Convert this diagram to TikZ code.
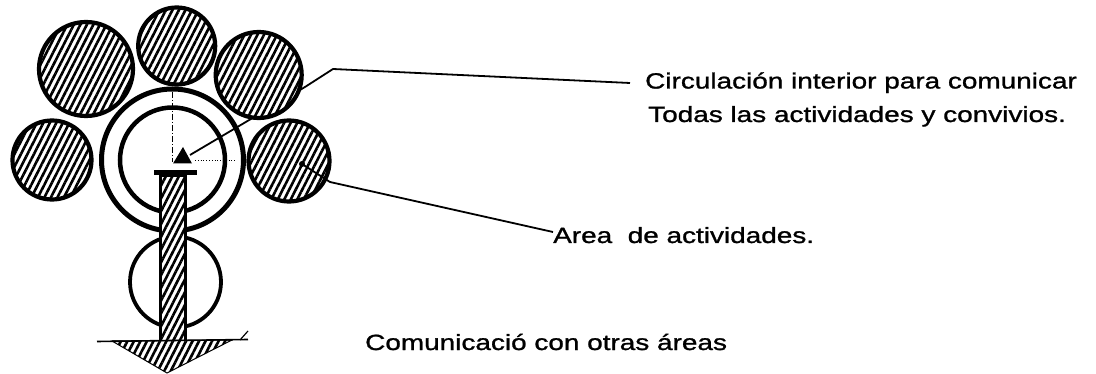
\documentclass[tikz,border=0pt]{standalone}
\usepackage{fontspec}
\setmainfont{Liberation Sans}[FakeStretch=1.27,FakeBold=1.2]
\usetikzlibrary{patterns.meta}
\tikzset{
  hatch/.style={preaction={fill=white}, pattern={Lines[angle=63,distance=5.8pt,line width=2.6pt]}},
  blob/.style={circle, draw, line width=4.2pt, hatch, inner sep=0pt, minimum size=#1},
  ring/.style={circle, draw, line width=#1, fill=white, inner sep=0pt},
  centerline/.style={line width=0.8pt, dash pattern=on 6pt off 2pt on 1pt off 2pt},
  leader/.style={line width=1.8pt},
  label/.style={font=\fontsize{22}{26}\selectfont, anchor=base west, inner sep=0pt},
}
\begin{document}
\begin{tikzpicture}[x=1pt,y=-1pt]
\useasboundingbox (0,0) rectangle (1096,374);
% central rings
\node[ring=5pt, minimum size=142pt] (outer) at (172.5,160) {};
\node[ring=4.5pt, minimum size=105pt] (inner) at (172.5,160) {};
\draw[centerline] (172.5,92) -- (172.5,162);
\draw[line width=0.8pt, dotted] (195,160) -- (236,160);
% small arrowhead triangle
\coordinate (tip) at (190,155);
\fill (173,163.5) -- (183,147) -- (192,163.5) -- cycle;
% lower circle
\node[circle, draw, line width=3.8pt, fill=white, inner sep=0pt, minimum size=91pt] (low) at (175.5,282) {};
% leader for Circulacion
\coordinate (c1) at (630,83);
\draw[leader] (c1) -- (333,69) -- (305,87) -- (tip);
% hatched activity areas
\node[blob=94pt] (tl) at (86,69) {};
\node[blob=77pt] (tc) at (176.7,46) {};
\node[blob=86pt] (tr) at (258.7,75) {};
\node[blob=79pt] (lc) at (52,160) {};
\node[blob=81pt] (rc) at (289,161) {};
% stem
\node[draw, line width=2.8pt, hatch, inner sep=0pt, minimum width=25pt, minimum height=166pt, anchor=north] (stem) at (173,174) {};
\fill (154,170) rectangle (197,175.5);
% arrow head
\draw[hatch, line width=1pt] (112,341) -- (232,340) -- (167,373) -- cycle;
\draw[line width=1.6pt] (97,341.5) -- (248,339.5);
\draw[line width=1.2pt] (240,340) -- (248,331);
% leader for Area
\coordinate (adot) at (302,164);
\coordinate (a1) at (553,232);
\fill (adot) circle (3pt);
\draw[leader] (adot) -- (330,182) -- (a1);
% texts
\node[label] (t1) at (645,88.5) {Circulación interior para comunicar};
\node[label] (t2) at (648,122) {Todas las actividades y convivios.};
\node[label] (t3) at (553,243) {Area\ \ de actividades.};
\node[label] (t4) at (365,350) {Comunicació con otras áreas};
\end{tikzpicture}
\end{document}
